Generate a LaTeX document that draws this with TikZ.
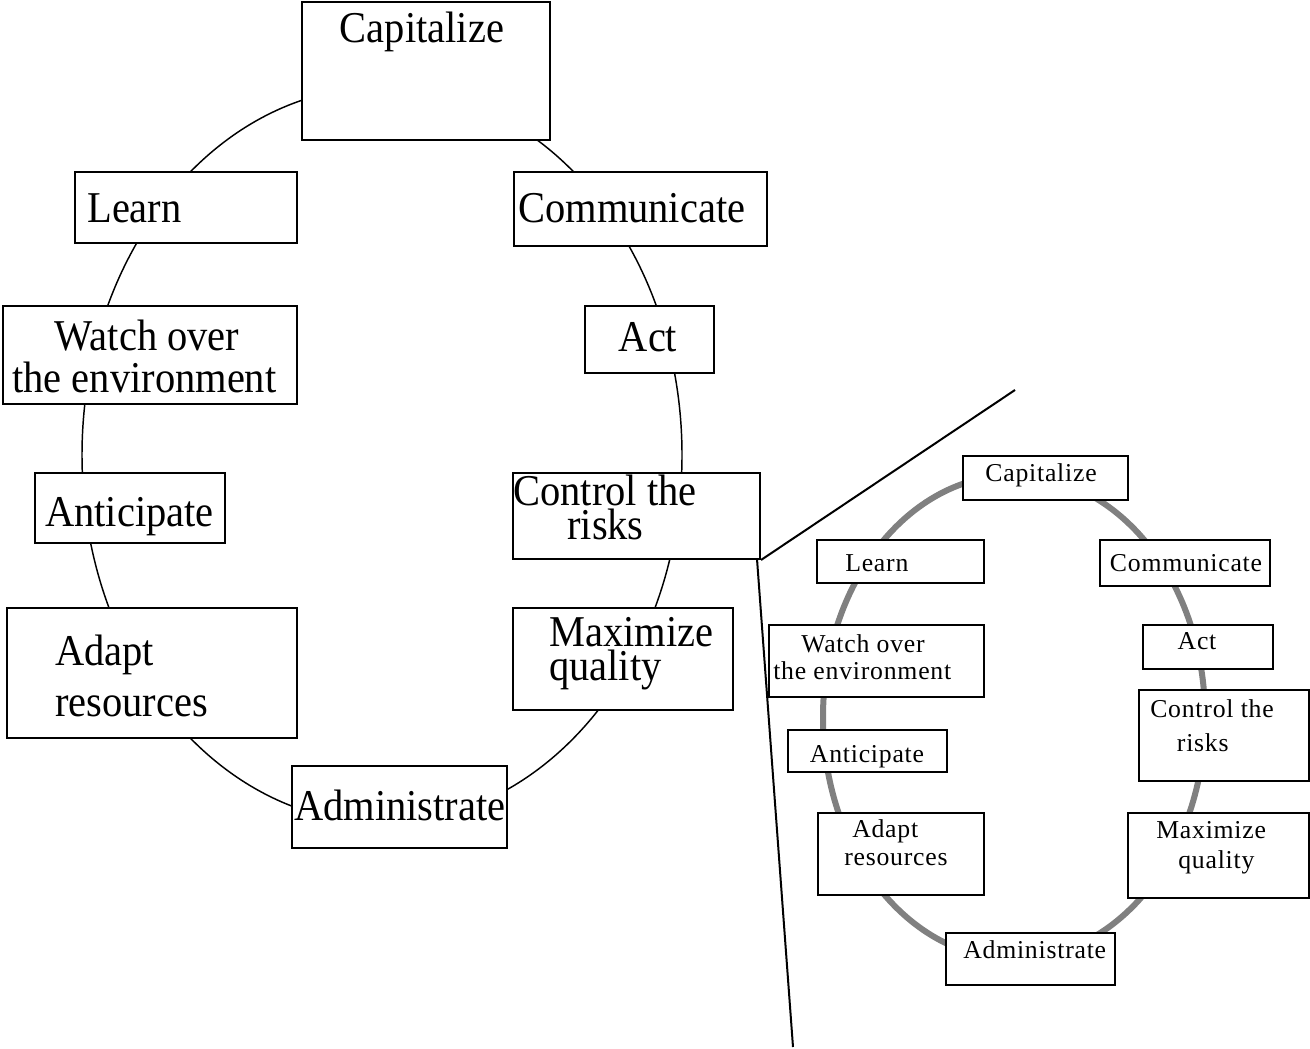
\documentclass[tikz,border=0pt]{standalone}
\usepackage{fontspec}
\setmainfont{Liberation Serif}
\newfontfamily\bigf[FakeStretch=0.92]{Liberation Serif}
\newfontfamily\smf[LetterSpace=3]{Liberation Serif}
\usetikzlibrary{fit}
\begin{document}
\begin{tikzpicture}[x=0.75pt,y=-0.75pt,
  bigbox/.style={draw, line width=1.5pt, fill=white, inner sep=0pt},
  smbox/.style={draw, line width=1.5pt, fill=white, inner sep=0pt},
  bt/.style={inner sep=0pt, align=left, font=\bigf\fontsize{33}{38}\selectfont},
  st/.style={inner sep=0pt, align=left, font=\smf\fontsize{19.3}{23}\selectfont},
  ring/.style={line width=1.1pt},
  grayring/.style={line width=4.5pt, draw=ringgray},
  zoomline/.style={line width=1.5pt}]
\definecolor{ringgray}{RGB}{128,128,128}
\useasboundingbox (0,0) rectangle (1310,1049);
\fill[white] (0,0) rectangle (1310,1049);

% ---------- main cycle ----------
\draw[ring] (382,455) ellipse [x radius=300, y radius=368];
\node[bigbox, fit={(302,2) (550,140)}] (cap) {};
\node[bigbox, fit={(75,172) (297,243)}] (lea) {};
\node[bigbox, fit={(514,172) (767,246)}] (com) {};
\node[bigbox, fit={(3,306) (297,404)}] (wat) {};
\node[bigbox, fit={(585,306) (714,373)}] (act) {};
\node[bigbox, fit={(35,473) (225,543)}] (ant) {};
\node[bigbox, fit={(513,473) (760,559)}] (con) {};
\node[bigbox, fit={(7,608) (297,738)}] (ada) {};
\node[bigbox, fit={(513,608) (733,710)}] (max) {};
\node[bigbox, fit={(292,766) (507,848)}] (adm) {};

% (multi-line texts are anchored at the baseline of their last line)
\node[bt, anchor=base] (capt) at (422,43) {Capitalize};
\node[bt, anchor=base west] (leat) at (87,222) {Learn};
\node[bt, anchor=base west] (comt) at (518,222) {Communicate};
\node[bt, anchor=base west] (watt) at (12,392) {\hspace*{32pt}Watch over\\[-7.2pt]the environment};
\node[bt, anchor=base] (actt) at (648,351) {Act};
\node[bt, anchor=base west] (antt) at (45,526) {Anticipate};
\node[bt, anchor=base west] (cont) at (513,539) {Control the\\[-12.5pt]\hspace*{40.5pt}risks};
\node[bt, anchor=base west] (adat) at (55,716) {Adapt\\[0pt]resources};
\node[bt, anchor=base west] (maxt) at (549,680) {Maximize\\[-13.2pt]quality};
\node[bt, anchor=base west] (admt) at (294,820) {Administrate};

% ---------- small cycle ----------
\draw[grayring] (1014,717) ellipse [x radius=191, y radius=242];
\node[smbox, fit={(963,456) (1128,500)}] (scap) {};
\node[smbox, fit={(817,540) (984,583)}] (slea) {};
\node[smbox, fit={(1100,540) (1270,586)}] (scom) {};
\node[smbox, fit={(769,625) (984,697)}] (swat) {};
\node[smbox, fit={(1143,625) (1273,669)}] (sact) {};
\node[smbox, fit={(1139,690) (1309,781)}] (scon) {};
\node[smbox, fit={(788,730) (947,772)}] (sant) {};
\node[smbox, fit={(818,813) (984,895)}] (sada) {};
\node[smbox, fit={(1128,813) (1309,898)}] (smax) {};
\node[smbox, fit={(946,933) (1115,985)}] (sadm) {};

\node[st, anchor=base] (scapt) at (1041,481) {Capitalize};
\node[st, anchor=base west] (sleat) at (845,571) {Learn};
\node[st, anchor=base] (scomt) at (1186,571) {Communicate};
\node[st, anchor=base west] (swatt) at (773,679) {\hspace*{21pt}Watch over\\[-2.8pt]the environment};
\node[st, anchor=base] (sactt) at (1197,649) {Act};
\node[st, anchor=base west] (scont) at (1150,751) {Control the\\[2.5pt]\hspace*{20pt}risks};
\node[st, anchor=base] (santt) at (867,762) {Anticipate};
\node[st, anchor=base west] (sadat) at (844,865) {\hspace*{6pt}Adapt\\[-2pt]resources};
\node[st, anchor=base west] (smaxt) at (1156,868) {Maximize\\[-1.2pt]\hspace*{16.5pt}quality};
\node[st, anchor=base west] (sadmt) at (963,958) {Administrate};

% ---------- zoom lines ----------
\coordinate (zup) at (1015,390);
\coordinate (zdown) at (793,1047);
\coordinate (zfoot) at (757,559);
\draw[zoomline] (con.south east) -- (zup);
\draw[zoomline] (zfoot) -- (zdown);
\end{tikzpicture}
\end{document}
